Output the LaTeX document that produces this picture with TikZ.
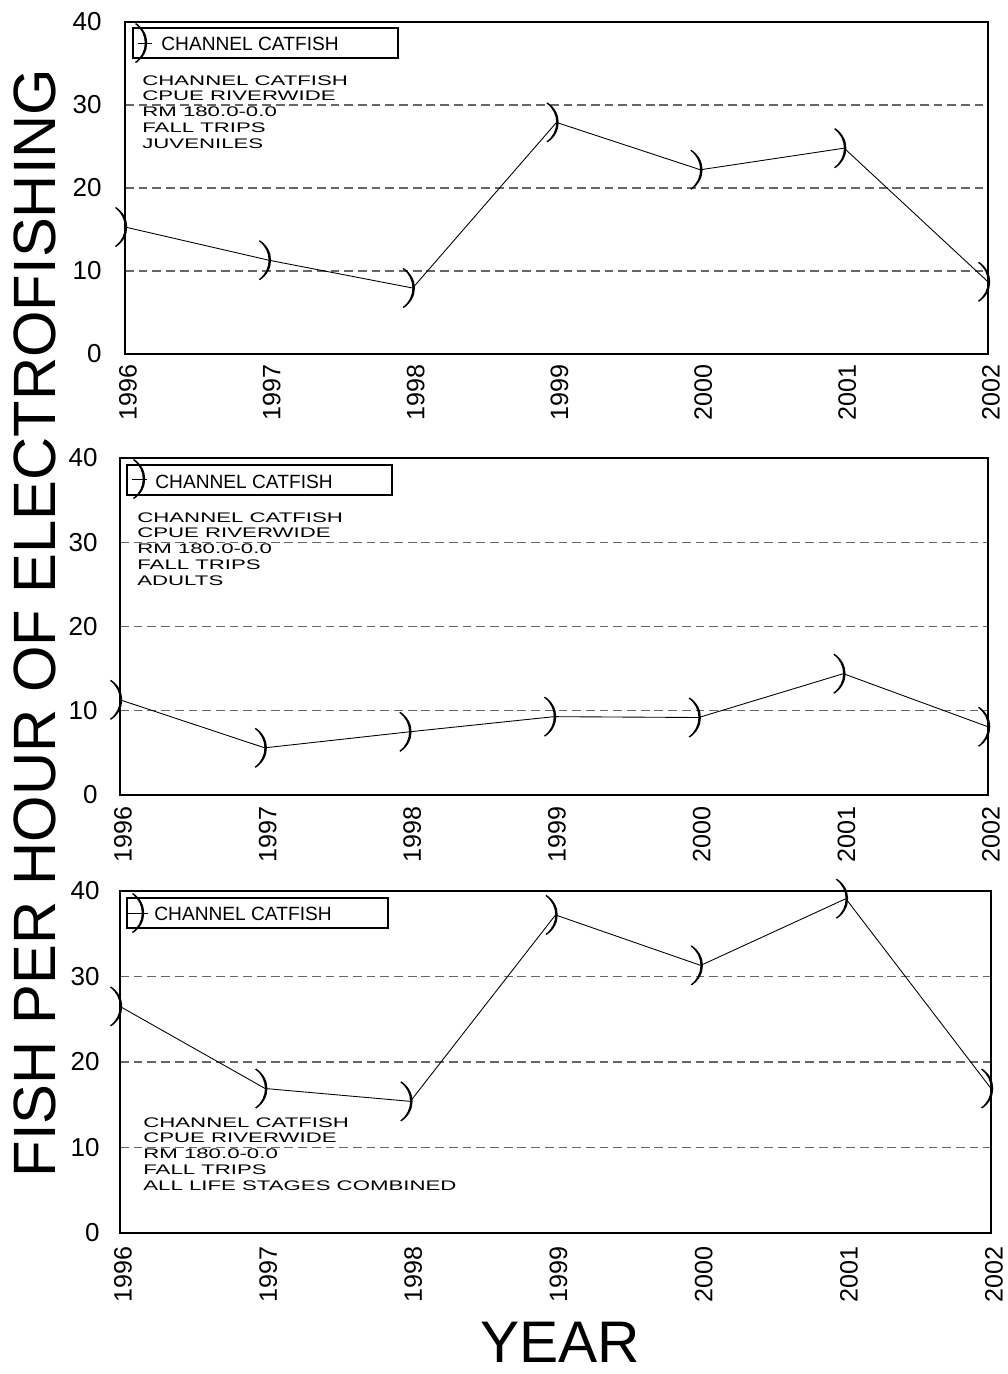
\documentclass[tikz,border=0pt]{standalone}
\usepackage{fontspec}
\setmainfont{Liberation Sans}
\newfontfamily\widefont[FakeStretch=1.6]{Liberation Sans}
\begin{document}
\begin{tikzpicture}[x=0.02cm,y=-0.02cm,
		frame/.style={line width=1.1pt},
		grid/.style={black!60,line width=0.6pt,dash pattern=on 5pt off 2.8pt},
		data/.style={line width=0.5pt},
		legbox/.style={line width=0.85pt},
		ticky/.style={anchor=east,inner sep=0pt,font=\fontsize{14.8}{15}\selectfont},
		tickx/.style={anchor=east,rotate=90,inner sep=0pt,font=\fontsize{14.3}{15}\selectfont},
		legtext/.style={anchor=base west,inner sep=0pt,font=\fontsize{10.9}{12}\selectfont},
		info/.style={anchor=north west,align=left,inner sep=0pt,font=\widefont\fontsize{7.9}{9.07}\selectfont},
		paren/.pic={\fill (-9,-20) .. controls (6,-10) and (6,10) .. (-9,20) -- (-10,19) .. controls (3,10) and (3,-10) .. (-10,-19) -- cycle;}
	]
	\useasboundingbox (0,0) rectangle (1008,1374);

	\foreach \v in {10,20,30} \draw[grid] (125,{354-\v*8.3}) -- (988,{354-\v*8.3});
	\draw[frame] (125,22) rectangle (988,354);
	\foreach \v in {0,10,...,40} \node[ticky] (juv-y\v) at (102,{354-\v*8.3}) {\v};
	\foreach \yr [count=\i from 0] in {1996,...,2002} \node[tickx] (juv-x\yr) at ({128+\i*143.83},364) {\yr};
	\draw[legbox] (133,28) rectangle (398,58);
	\coordinate (juv-lm) at (145,43);
	\draw[data] (138,43) -- (152,43);
	\pic at (juv-lm) {paren};
	\node[legtext] (juv-lt) at (161,50) {CHANNEL CATFISH};
	\node[info] (juv-info) at (142,75) {CHANNEL CATFISH\\CPUE RIVERWIDE\\RM 180.0-0.0\\FALL TRIPS\\JUVENILES};
	\foreach \v [count=\i from 0] in {15.3,11.3,7.95,27.9,22.2,24.8,8.7} \coordinate (juv\i) at ({125+\i*143.83},{354-\v*8.3});
	\draw[data] (juv0) -- (juv1) -- (juv2) -- (juv3) -- (juv4) -- (juv5) -- (juv6);
	\foreach \i in {0,...,6} \pic at (juv\i) {paren};

	\foreach \v in {10,20,30} \draw[grid] (120,{795-\v*8.425}) -- (988,{795-\v*8.425});
	\draw[frame] (120,458) rectangle (988,795);
	\foreach \v in {0,10,...,40} \node[ticky] (adt-y\v) at (98,{795-\v*8.425}) {\v};
	\foreach \yr [count=\i from 0] in {1996,...,2002} \node[tickx] (adt-x\yr) at ({123+\i*144.67},806) {\yr};
	\draw[legbox] (127,465) rectangle (392,495);
	\coordinate (adt-lm) at (143,479);
	\draw[data] (132,479) -- (147,479);
	\pic at (adt-lm) {paren};
	\node[legtext] (adt-lt) at (155,488) {CHANNEL CATFISH};
	\node[info] (adt-info) at (137,512) {CHANNEL CATFISH\\CPUE RIVERWIDE\\RM 180.0-0.0\\FALL TRIPS\\ADULTS};
	\foreach \v [count=\i from 0] in {11.3,5.6,7.5,9.3,9.2,14.4,8.1} \coordinate (adt\i) at ({120+\i*144.67},{795-\v*8.425});
	\draw[data] (adt0) -- (adt1) -- (adt2) -- (adt3) -- (adt4) -- (adt5) -- (adt6);
	\foreach \i in {0,...,6} \pic at (adt\i) {paren};

	\foreach \v in {10,20,30} \draw[grid] (120,{1233-\v*8.55}) -- (991,{1233-\v*8.55});
	\draw[frame] (120,891) rectangle (991,1233);
	\foreach \v in {0,10,...,40} \node[ticky] (all-y\v) at (100,{1233-\v*8.55}) {\v};
	\foreach \yr [count=\i from 0] in {1996,...,2002} \node[tickx] (all-x\yr) at ({123+\i*145.17},1246) {\yr};
	\draw[legbox] (127,898) rectangle (388,928);
	\coordinate (all-lm) at (142,913);
	\draw[data] (128,913) -- (148,913);
	\pic at (all-lm) {paren};
	\node[legtext] (all-lt) at (154,920) {CHANNEL CATFISH};
	\node[info] (all-info) at (143,1117) {CHANNEL CATFISH\\CPUE RIVERWIDE\\RM 180.0-0.0\\FALL TRIPS\\ALL LIFE STAGES COMBINED};
	\foreach \v [count=\i from 0] in {26.5,16.9,15.4,37.2,31.3,39.1,16.9} \coordinate (all\i) at ({120+\i*145.17},{1233-\v*8.55});
	\draw[data] (all0) -- (all1) -- (all2) -- (all3) -- (all4) -- (all5) -- (all6);
	\foreach \i in {0,...,6} \pic at (all\i) {paren};

	\node[rotate=90,font=\fontsize{34}{34}\selectfont] (ytitle) at (35,623) {FISH PER HOUR OF ELECTROFISHING};
	\node[font=\fontsize{33.4}{34}\selectfont] (xtitle) at (560,1342) {YEAR};
\end{tikzpicture}
\end{document}
